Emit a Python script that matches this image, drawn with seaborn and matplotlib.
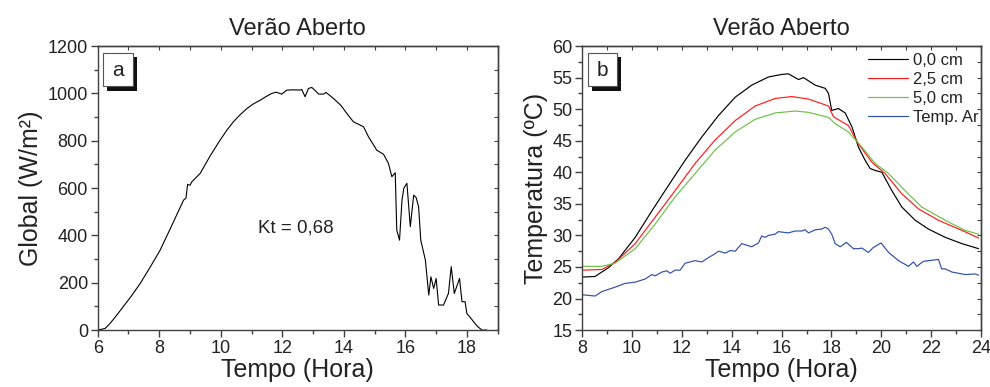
"""
Verão Aberto: global irradiance (a) and soil / air temperature (b)
against time of day.
"""

import matplotlib
matplotlib.use("Agg")
import matplotlib.pyplot as plt
from matplotlib.patches import Rectangle
from matplotlib.ticker import MultipleLocator
import seaborn as sns


# ---- panel a: global irradiance (W/m2) ----
hora_a = [6.0, 6.24, 6.4, 6.6, 6.83, 7.1, 7.38, 7.7, 8.03, 8.4, 8.79, 8.87,
          8.92, 9.0, 9.05, 9.33, 9.65, 9.98, 10.2, 10.41, 10.63, 10.85, 11.05,
          11.28, 11.45, 11.66, 11.8, 11.98, 12.15, 12.35, 12.58, 12.63, 12.74,
          12.85, 12.96, 13.07, 13.18, 13.34, 13.42, 13.66, 13.9, 14.1, 14.31,
          14.5, 14.64, 14.8, 15.07, 15.29, 15.45, 15.56, 15.67, 15.72, 15.81,
          15.89, 15.95, 16.05, 16.16, 16.27, 16.35, 16.43, 16.5, 16.65, 16.76,
          16.83, 16.92, 17.0, 17.08, 17.24, 17.4, 17.49, 17.59, 17.76, 17.84,
          17.94, 18.0, 18.1, 18.22, 18.35, 18.49, 18.65]
glob_a = [0, 7, 28, 60, 99, 145, 197, 265, 338, 440, 549, 558,
          615, 612, 625, 662, 735, 803, 845, 880, 910, 936, 955,
          971, 985, 1000, 1005, 997, 1014, 1015, 1014, 1017, 986,
          1021, 1025, 1012, 997, 997, 1004, 979, 950, 915, 880,
          868, 859, 817, 760, 743, 704, 648, 665, 422, 380,
          549, 600, 620, 437, 570, 560, 521, 380, 296, 148,
          225, 176, 218, 106, 106, 155, 268, 155, 218, 120,
          120, 70, 55, 35, 15, 0, 0]

# ---- panel b: temperature (ºC) ----
hora_b0 = [8.0, 8.52, 9.06, 9.46, 10.13, 10.8, 11.46, 12.13, 12.8, 13.47, 14.14,
           14.8, 15.47, 16.0, 16.27, 16.68, 16.88, 17.35, 17.75, 17.88, 18.01,
           18.28, 18.55, 18.82, 19.08, 19.35, 19.55, 19.75, 20.02, 20.42, 20.82,
           21.36, 21.89, 22.56, 23.23, 23.9]
temp_00 = [23.4, 23.5, 24.9, 26.3, 29.7, 33.9, 37.9, 41.9, 45.6, 49.0, 51.9,
           53.8, 55.1, 55.5, 55.6, 54.7, 55.0, 53.8, 53.3, 52.5, 49.8,
           50.1, 49.4, 47.2, 44.0, 41.9, 40.6, 40.3, 40.0, 37.1, 34.5,
           32.4, 31.0, 29.7, 28.7, 27.9]

hora_b25 = [8.0, 8.79, 9.32, 10.13, 10.93, 11.73, 12.53, 13.33, 14.14, 14.94,
            15.74, 16.41, 17.08, 17.88, 18.08, 18.68, 19.08, 19.62, 20.15,
            20.82, 21.49, 22.29, 23.23, 23.9]
temp_25 = [24.5, 24.6, 25.7, 28.7, 32.9, 37.1, 41.4, 45.1, 48.2, 50.5,
           51.7, 52.0, 51.6, 50.5, 48.8, 47.4, 44.5, 41.6, 39.8,
           36.6, 34.2, 32.4, 30.8, 29.6]

hora_b50 = [8.0, 8.79, 9.32, 10.13, 10.93, 11.73, 12.53, 13.33, 14.14, 14.94,
            15.74, 16.54, 17.08, 17.88, 18.15, 18.68, 19.22, 19.75, 20.29,
            20.95, 21.62, 22.56, 23.36, 23.9]
temp_50 = [25.1, 25.1, 25.6, 27.9, 31.8, 36.1, 39.8, 43.5, 46.4, 48.4,
           49.4, 49.7, 49.5, 48.7, 47.7, 46.4, 44.0, 41.4, 39.8,
           37.1, 34.5, 32.4, 30.8, 30.2]

hora_ar = [8.0, 8.52, 8.79, 9.32, 9.72, 10.13, 10.53, 10.8, 10.93, 11.2, 11.4,
           11.53, 11.73, 11.93, 12.13, 12.53, 12.8, 13.07, 13.33, 13.47, 13.74,
           13.94, 14.14, 14.4, 14.8, 15.07, 15.2, 15.34, 15.47, 15.74, 15.87,
           16.27, 16.54, 16.81, 16.94, 17.08, 17.35, 17.61, 17.75, 17.88, 18.01,
           18.15, 18.35, 18.6, 18.88, 19.08, 19.22, 19.48, 19.68, 19.99, 20.29,
           20.69, 21.09, 21.29, 21.42, 21.69, 22.29, 22.42, 22.56, 22.83, 23.36,
           23.76, 23.9]
temp_ar = [20.6, 20.4, 21.1, 21.8, 22.4, 22.6, 23.1, 23.8, 23.6, 24.2, 24.4,
           24.0, 24.5, 24.5, 25.6, 26.0, 25.8, 26.5, 27.1, 27.5, 27.2,
           27.6, 27.5, 28.7, 28.2, 28.8, 29.9, 29.7, 30.0, 30.2, 30.6,
           30.4, 30.7, 30.7, 30.9, 30.4, 30.9, 31.0, 31.3, 31.0, 30.2,
           28.7, 28.2, 28.9, 27.9, 27.9, 28.0, 27.3, 28.1, 28.8, 27.3,
           26.0, 25.1, 25.8, 25.1, 25.9, 26.2, 24.7, 24.7, 24.2, 23.8,
           23.9, 23.7]

series_b = [
    ("0,0 cm", hora_b0, temp_00, "#000000"),
    ("2,5 cm", hora_b25, temp_25, "#ff1a1a"),
    ("5,0 cm", hora_b50, temp_50, "#6cc04a"),
    ("Temp. Ar", hora_ar, temp_ar, "#2f4fa8"),
]

sns.set_style("ticks")
plt.rcParams["font.family"] = ["Liberation Sans", "DejaVu Sans"]
plt.rcParams["axes.edgecolor"] = "#404040"
plt.rcParams["axes.linewidth"] = 1.0
plt.rcParams["xtick.color"] = "#404040"
plt.rcParams["ytick.color"] = "#404040"
plt.rcParams["xtick.labelcolor"] = "#222222"
plt.rcParams["ytick.labelcolor"] = "#222222"

fig = plt.figure(figsize=(9.9, 3.87), dpi=100)
ax_a = fig.add_axes([0.0987, 0.147, 0.404, 0.734])
ax_b = fig.add_axes([0.588, 0.147, 0.403, 0.734])


def style_axes(ax, xmaj, xmin, ymaj, ymin, letter):
    ax.xaxis.set_major_locator(MultipleLocator(xmaj))
    ax.xaxis.set_minor_locator(MultipleLocator(xmin))
    ax.yaxis.set_major_locator(MultipleLocator(ymaj))
    ax.yaxis.set_minor_locator(MultipleLocator(ymin))
    ax.tick_params(which="major", direction="out", length=5, width=1,
                   labelsize=13, pad=2)
    ax.tick_params(which="minor", direction="out", length=3, width=1)
    for sp in ax.spines.values():
        sp.set_visible(True)
    # mirrored inward ticks on top and right
    top = ax.secondary_xaxis("top")
    top.xaxis.set_major_locator(MultipleLocator(xmin))
    top.tick_params(direction="in", length=3, labeltop=False)
    right = ax.secondary_yaxis("right")
    right.yaxis.set_major_locator(MultipleLocator(ymin))
    right.tick_params(direction="in", length=3, labelright=False)
    ax.set_title("Verão Aberto", fontsize=17, pad=8, color="#222222")
    ax.set_xlabel("Tempo (Hora)", fontsize=18, labelpad=1, color="#222222")
    # framed panel letter with a drop shadow
    ax.add_patch(Rectangle((0.024, 0.843), 0.0735, 0.117, transform=ax.transAxes,
                           facecolor="#111111", edgecolor="none", zorder=4))
    ax.add_patch(Rectangle((0.014, 0.859), 0.0735, 0.117, transform=ax.transAxes,
                           facecolor="white", edgecolor="#555555", lw=0.8, zorder=5))
    ax.text(0.051, 0.915, letter, transform=ax.transAxes, fontsize=15,
            ha="center", va="center", zorder=6, color="#222222")


# panel a
sns.lineplot(x=hora_a, y=glob_a, ax=ax_a, color="black", lw=0.8,
             estimator=None, sort=False)
ax_a.set_xlim(6, 19)
ax_a.set_ylim(0, 1200)
style_axes(ax_a, 2, 1, 200, 100, "a")
ax_a.set_ylabel("Global (W/m²)", fontsize=18, labelpad=3, color="#222222")
ax_a.text(12.45, 432, "Kt = 0,68", fontsize=13.5, ha="center", va="center",
          color="#222222")

# panel b
for label, hx, ty, col in series_b:
    sns.lineplot(x=hx, y=ty, ax=ax_b, color=col, lw=0.85, label=label,
                 estimator=None, sort=False)
ax_b.set_xlim(8, 24)
ax_b.set_ylim(15, 60)
style_axes(ax_b, 2, 1, 5, 2.5, "b")
ax_b.set_ylabel("Temperatura (ºC)", fontsize=18, labelpad=3, color="#222222")
ax_b.legend(loc="upper right", bbox_to_anchor=(0.993, 0.975), frameon=False,
            fontsize=12, handlelength=2.4, handletextpad=0.3,
            labelspacing=0.23, borderaxespad=0, borderpad=0,
            labelcolor="#222222")

fig.savefig("out.png", dpi=100)
